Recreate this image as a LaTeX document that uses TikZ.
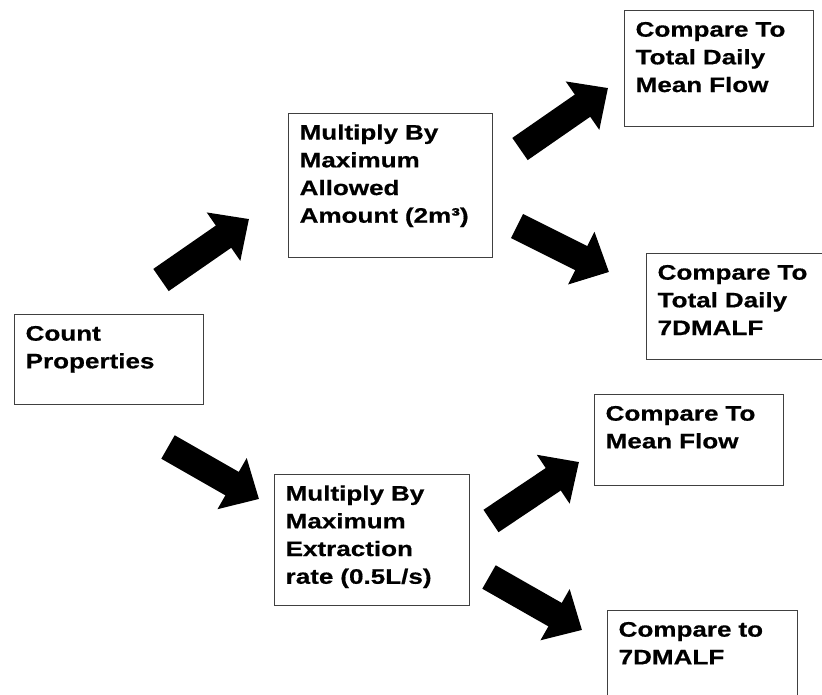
\documentclass[tikz,border=0pt]{standalone}
\usepackage{fontspec}
\setmainfont{Liberation Sans}[FakeStretch=1.24, BoldFeatures={FakeBold=0.6}]
\usetikzlibrary{arrows.meta}

\tikzset{
  stepbox/.style={draw=black!75, line width=1.3pt, anchor=north west, align=left,
    inner xsep=11pt, inner ysep=11pt, text height=15pt,
    font=\fontsize{21}{27.7}\selectfont\bfseries},
  fatarrow/.style={line width=27pt, -{Triangle[length=31pt,width=57pt]}}
}

\begin{document}
\begin{tikzpicture}[x=1pt,y=-1pt]
\useasboundingbox (0,0) rectangle (822,695);

%%% boites
\node[stepbox, text width=167pt, text depth=53pt] (count) at (14,314) {Count\\Properties};

\node[stepbox, text width=182pt, text depth=107pt] (allowed) at (288,113) {Multiply By\\Maximum\\Allowed\\Amount (2m³)};
\node[stepbox, text width=173pt, text depth=94pt] (extract) at (274,474) {Multiply By\\Maximum\\Extraction\\rate (0.5L/s)};

\node[stepbox, text width=167pt, text depth=79pt] (meanTot) at (624,10) {Compare To\\Total Daily\\Mean Flow};
\node[stepbox, text width=158pt, text depth=69pt] (malfTot) at (646,253) {Compare To\\Total Daily\\7DMALF};
\node[stepbox, text width=167pt, text depth=54pt] (mean) at (594,394) {Compare To\\Mean Flow};
\node[stepbox, text width=168pt, text depth=63pt] (malf) at (607,610) {Compare to\\7DMALF};

%%% fleches
\coordinate (countUp) at (161,280);   \coordinate (allowedIn) at (249,219);
\coordinate (countDown) at (168,447); \coordinate (extractIn) at (259,499);
\coordinate (allowedUp) at (520,149);   \coordinate (meanTotIn) at (608,88);
\coordinate (allowedDown) at (517,226); \coordinate (malfTotIn) at (609,272);
\coordinate (extractUp) at (491,521);   \coordinate (meanIn) at (579,462);
\coordinate (extractDown) at (489,577); \coordinate (malfIn) at (582,630);

\draw[fatarrow] (countUp) -- (allowedIn);
\draw[fatarrow] (countDown) -- (extractIn);
\draw[fatarrow] (allowedUp) -- (meanTotIn);
\draw[fatarrow] (allowedDown) -- (malfTotIn);
\draw[fatarrow] (extractUp) -- (meanIn);
\draw[fatarrow] (extractDown) -- (malfIn);
\end{tikzpicture}
\end{document}
